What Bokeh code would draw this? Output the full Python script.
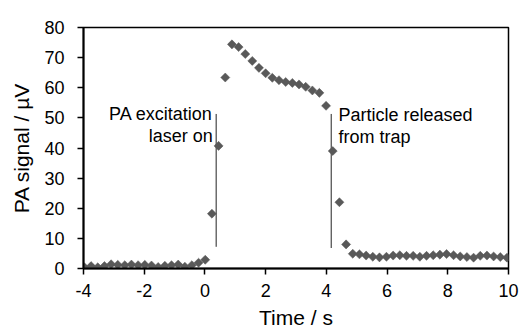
import numpy as np
from bokeh.plotting import figure
from bokeh.models import Range1d, FixedTicker, ColumnDataSource, CustomJSTickFormatter
from bokeh.core.properties import value
from bokeh.embed import file_html
from bokeh.resources import INLINE

# ---- data ----
time_s = [-3.97, -3.75, -3.53, -3.31, -3.09, -2.87, -2.64, -2.42, -2.20, -1.98,
          -1.76, -1.54, -1.32, -1.10, -0.88, -0.66, -0.43, -0.21, 0.01, 0.23,
          0.45, 0.67, 0.89, 1.11, 1.33, 1.56, 1.78, 2.00, 2.22, 2.44,
          2.66, 2.88, 3.10, 3.32, 3.54, 3.77, 3.99, 4.21, 4.43, 4.65,
          4.87, 5.09, 5.31, 5.53, 5.75, 5.98, 6.20, 6.42, 6.64, 6.86,
          7.08, 7.30, 7.52, 7.74, 7.96, 8.19, 8.41, 8.63, 8.85, 9.07,
          9.29, 9.51, 9.73, 9.95]
pa_signal_uV = [0.4, 0.8, 0.4, 0.8, 1.4, 1.2, 1.1, 1.3, 1.1, 1.2,
                1.0, 0.5, 0.9, 1.1, 1.3, 0.6, 1.1, 1.9, 2.9, 18.2,
                40.7, 63.4, 74.4, 73.5, 71.2, 68.9, 66.6, 64.8, 63.3, 62.5,
                61.9, 61.6, 61.1, 60.3, 59.1, 58.3, 54.0, 39.0, 22.0, 8.0,
                4.9, 4.7, 4.3, 3.9, 3.7, 3.9, 4.3, 4.4, 4.2, 4.2,
                3.9, 4.2, 4.4, 4.6, 4.8, 4.4, 4.0, 3.8, 3.6, 4.2,
                4.3, 4.0, 3.8, 3.6]

x_ticks = [-4, -2, 0, 2, 4, 6, 8, 10]
y_ticks = [0, 10, 20, 30, 40, 50, 60, 70, 80]

# event markers (vertical lines)
event_x = [0.37, 4.16]
event_y0 = [7.2, 6.8]
event_y1 = [51.3, 51.3]

# annotation texts
left_label_lines = ["PA excitation", "laser on"]
left_label_x = [0.26, 0.26]
left_label_y = [51.3, 44.0]
right_label_lines = ["Particle released", "from trap"]
right_label_x = [4.40, 4.40]
right_label_y = [50.8, 43.6]

FONT = "Liberation Sans"

p = figure(width=520, height=332, output_backend="svg", toolbar_location=None,
           x_range=Range1d(-4, 10), y_range=Range1d(0, 80),
           min_border_left=83, min_border_right=12, min_border_top=27,
           min_border_bottom=64)
p.xgrid.visible = False
p.ygrid.visible = False
p.background_fill_color = "white"
p.border_fill_color = "white"
p.outline_line_color = "black"
p.outline_line_width = 1.5
p.outline_line_alpha = 1.0

for ax in (p.xaxis[0], p.yaxis[0]):
    ax.axis_line_color = "black"
    ax.axis_line_width = 2
    ax.major_tick_line_color = "black"
    ax.major_tick_line_width = 1.5
    ax.major_tick_in = 0
    ax.major_tick_out = 6
    ax.minor_tick_line_color = None
    ax.major_label_text_font = FONT
    ax.major_label_text_font_size = "18px"
    ax.major_label_text_color = "black"
    ax.axis_label_text_font = FONT
    ax.axis_label_text_font_size = "21px"
    ax.axis_label_text_font_style = "normal"
    ax.axis_label_text_color = "black"
    ax.formatter = CustomJSTickFormatter(code="return tick.toString();")

p.xaxis.ticker = FixedTicker(ticks=x_ticks)
p.yaxis.ticker = FixedTicker(ticks=y_ticks)
p.xaxis.axis_label = "Time / s"
p.yaxis.axis_label = "PA signal / µV"
p.xaxis.major_label_standoff = 9
p.xaxis.axis_label_standoff = 6
p.yaxis.major_label_standoff = 13
p.yaxis.axis_label_standoff = 8

p.segment(x0=event_x, y0=event_y0, x1=event_x, y1=event_y1,
          line_color="#222222", line_width=1)

src = ColumnDataSource(dict(t=time_s, v=pa_signal_uV))
p.scatter("t", "v", source=src, marker="square", angle=np.pi / 4, size=6.4,
          fill_color="#595959", line_color="#595959", line_width=0.5)

p.text(x=left_label_x, y=left_label_y, text=left_label_lines,
       text_align="right", text_baseline="alphabetic",
       text_font=value(FONT), text_font_size="18px", text_color="black")
p.text(x=right_label_x, y=right_label_y, text=right_label_lines,
       text_align="left", text_baseline="alphabetic",
       text_font=value(FONT), text_font_size="18px", text_color="black")

open("out.html", "w").write(file_html(p, INLINE))
